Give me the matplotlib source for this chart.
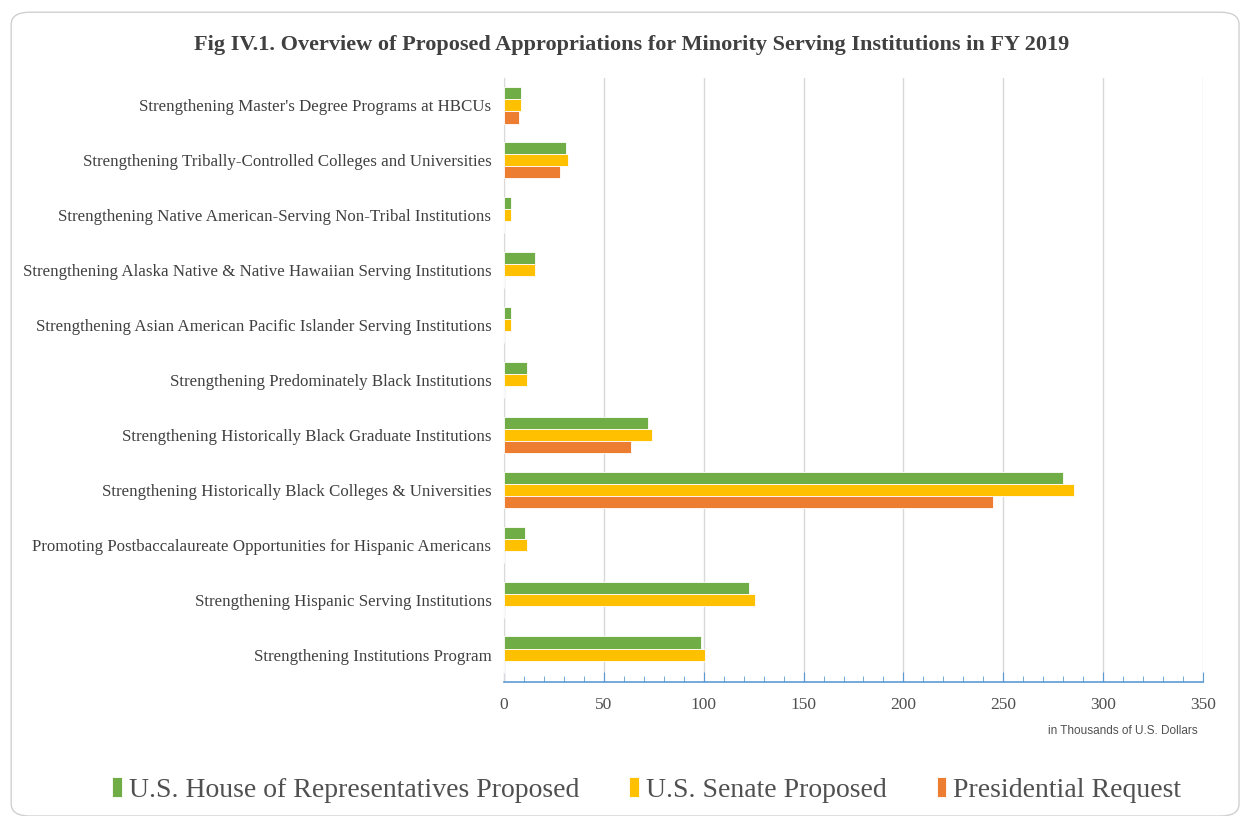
import matplotlib
matplotlib.use("Agg")
import matplotlib.pyplot as plt
import numpy as np
from matplotlib.patches import FancyBboxPatch
from matplotlib.ticker import MultipleLocator

categories = [
    "Strengthening Master's Degree Programs at HBCUs",
    "Strengthening Tribally-Controlled Colleges and Universities",
    "Strengthening Native American-Serving Non-Tribal Institutions",
    "Strengthening Alaska Native & Native Hawaiian Serving Institutions",
    "Strengthening Asian American Pacific Islander Serving Institutions",
    "Strengthening Predominately Black Institutions",
    "Strengthening Historically Black Graduate Institutions",
    "Strengthening Historically Black Colleges & Universities",
    "Promoting Postbaccalaureate Opportunities for Hispanic Americans",
    "Strengthening Hispanic Serving Institutions",
    "Strengthening Institutions Program",
]
house = [8.5, 31.2, 3.7, 15.7, 3.7, 11.7, 72.3, 279.9, 10.6, 122.7, 98.4]
senate = [8.5, 32.0, 3.7, 15.7, 3.7, 11.7, 74.0, 285.2, 11.3, 125.8, 100.8]
president = [7.7, 28.0, 0, 0, 0, 0, 63.4, 244.7, 0, 0, 0]
series_names = ["U.S. House of Representatives Proposed", "U.S. Senate Proposed",
                "Presidential Request"]
colors = ["#70AD47", "#FFC000", "#ED7D31"]

serif = "Liberation Serif"
fig = plt.figure(figsize=(12.44, 8.16), dpi=100)
frame = FancyBboxPatch((0.009, 0.0), 0.987, 0.985, boxstyle="round,pad=0,rounding_size=0.015",
                       transform=fig.transFigure, facecolor="white",
                       edgecolor="#D0D0D0", linewidth=1.0, zorder=-5)
fig.patches.append(frame)
ax = fig.add_axes([504 / 1244, 1 - 682 / 816, 699 / 1244, 604 / 816])
ax.set_facecolor("none")

n = len(categories)
y = np.arange(n)[::-1]
h = 0.22
for vals, off, c, name in zip([house, senate, president], [h, 0, -h], colors, series_names):
    ax.barh(y + off, vals, height=h, color=c, edgecolor="white", linewidth=0.6, label=name, zorder=3)

ax.set_xlim(0, 350)
ax.set_ylim(-0.5, n - 0.5)
ax.set_yticks(y)
ax.set_yticklabels(categories, fontfamily=serif, fontsize=12.2, color="#404040")
ax.tick_params(axis="y", length=0, pad=9)
ax.xaxis.set_major_locator(MultipleLocator(50))
ax.xaxis.set_minor_locator(MultipleLocator(10))
ax.tick_params(axis="x", which="major", direction="in", length=7, color="#5B9BD5", pad=11,
               labelsize=12.5, labelcolor="#505050")
ax.tick_params(axis="x", which="minor", direction="in", length=4, color="#5B9BD5")
for lab in ax.get_xticklabels():
    lab.set_fontfamily(serif)
ax.grid(axis="x", color="#D9D9D9", linewidth=1, zorder=0)
for s in ["top", "right"]:
    ax.spines[s].set_visible(False)
ax.spines["left"].set_color("#D9D9D9")
ax.spines["bottom"].set_color("#5B9BD5")
ax.spines["bottom"].set_linewidth(1.2)

fig.text(1198 / 1244, 1 - 731 / 816, "in Thousands of U.S. Dollars", ha="right", va="center",
         fontsize=8.5, color="#505050", fontfamily="Liberation Sans")
fig.text(632 / 1244, 1 - 45 / 816,
         "Fig IV.1. Overview of Proposed Appropriations for Minority Serving Institutions in FY 2019",
         ha="center", va="center", fontsize=16, fontweight="bold", color="#404040", fontfamily=serif)

handles, labels = ax.get_legend_handles_labels()
fig.legend(handles, labels, loc="center", bbox_to_anchor=(0.52, 1 - 790 / 816), ncol=3, frameon=False,
           prop={"family": serif, "size": 20}, labelcolor="#505050", handlelength=0.35, handleheight=0.7,
           handletextpad=0.25, columnspacing=1.8)

fig.savefig("out.png", dpi=100)
